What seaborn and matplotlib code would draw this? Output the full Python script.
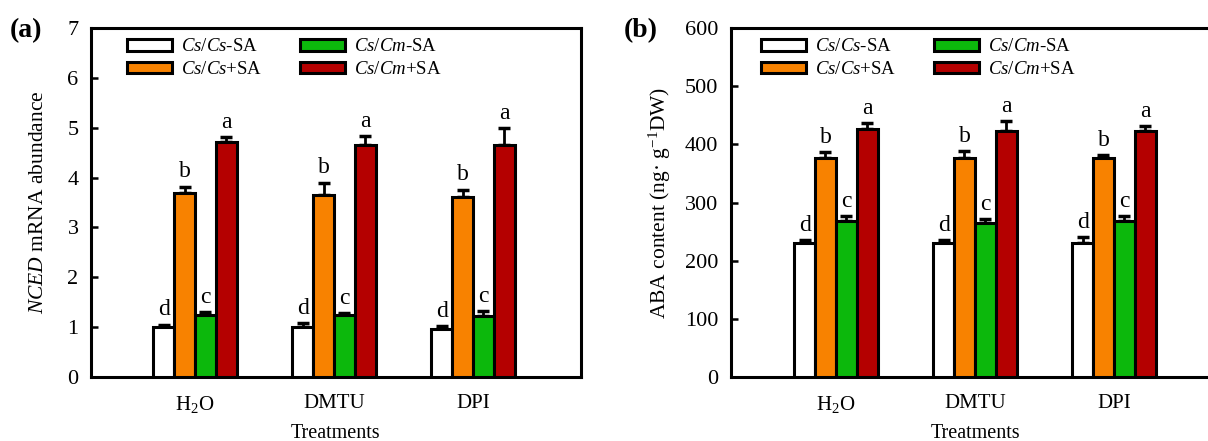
import numpy as np
import pandas as pd
import seaborn as sns
from matplotlib import pyplot as plt

# treatments on x axis and the four graft / SA combinations
treatments = ["H$_2$O", "DMTU", "DPI"]
groups = ["$\\it{Cs/Cs}$-SA", "$\\it{Cs/Cs}$+SA", "$\\it{Cs/Cm}$-SA", "$\\it{Cs/Cm}$+SA"]
colors = ["#FFFFFF", "#F88200", "#0CB80C", "#B40000"]
letters = ["d", "b", "c", "a"]

# (a) NCED mRNA abundance
nced_cs_minus = [1.00, 1.00, 0.97]
nced_cs_plus = [3.69, 3.65, 3.61]
nced_cm_minus = [1.24, 1.24, 1.22]
nced_cm_plus = [4.71, 4.65, 4.65]
nced_err_cs_minus = [0.05, 0.08, 0.05]
nced_err_cs_plus = [0.13, 0.25, 0.15]
nced_err_cm_minus = [0.06, 0.04, 0.10]
nced_err_cm_plus = [0.10, 0.18, 0.35]

# (b) ABA content
aba_cs_minus = [230, 230, 231]
aba_cs_plus = [377, 377, 377]
aba_cm_minus = [269, 265, 269]
aba_cm_plus = [426, 423, 423]
aba_err_cs_minus = [5, 5, 9]
aba_err_cs_plus = [10, 12, 5]
aba_err_cm_minus = [7, 7, 7]
aba_err_cm_plus = [10, 17, 9]

sns.set_style("ticks", {"axes.edgecolor": "black", "text.color": "black",
                        "xtick.color": "black", "ytick.color": "black",
                        "axes.labelcolor": "black"})
plt.rcParams['font.family'] = ['Liberation Serif', 'DejaVu Serif']
plt.rcParams['mathtext.fontset'] = 'custom'
plt.rcParams['mathtext.rm'] = 'Liberation Serif'
plt.rcParams['mathtext.it'] = 'Liberation Serif:italic'
plt.rcParams['mathtext.bf'] = 'Liberation Serif:bold'


def make_df(series):
    rows = []
    for g, vals in zip(groups, series):
        for t, v in zip(treatments, vals):
            rows.append({"treatment": t, "group": g, "value": v})
    return pd.DataFrame(rows)


def draw_panel(ax, series, errs, ylim, yticks, ylabel, ypad, xlim, leg_anchor, colsp):
    df = make_df(series)
    sns.barplot(data=df, x="treatment", y="value", hue="group", order=treatments,
                hue_order=groups, palette=dict(zip(groups, colors)), width=0.6,
                edgecolor="black", linewidth=2.2, errorbar=None, saturation=1, ax=ax, zorder=3)
    for cont, err, let in zip(ax.containers, errs, letters):
        xs = [p.get_x() + p.get_width() / 2 for p in cont.patches]
        hs = [p.get_height() for p in cont.patches]
        ax.errorbar(xs, hs, yerr=[np.zeros(len(err)), err], fmt="none", ecolor="black",
                    elinewidth=2, capsize=4.5, capthick=2.5, zorder=2)
        for x, h, e in zip(xs, hs, err):
            ax.annotate(let, (x, h + e), xytext=(0, 3), textcoords="offset points",
                        ha="center", va="bottom", fontsize=17)
    ax.set_xlim(*xlim)
    ax.set_ylim(*ylim)
    ax.set_yticks(yticks)
    ax.set_ylabel(ylabel, fontsize=15.5, labelpad=ypad)
    ax.set_xlabel("Treatments", fontsize=14.5, labelpad=6.5)
    ax.tick_params(axis="y", direction="in", length=5, width=1.8, labelsize=16, pad=9)
    ax.tick_params(axis="x", length=0, labelsize=15, pad=12)
    for s in ax.spines.values():
        s.set_linewidth(2.2)
        s.set_visible(True)
    h, l = ax.get_legend_handles_labels()
    ax.legend(h, l, ncol=2, loc="upper left", bbox_to_anchor=leg_anchor, frameon=False,
              fontsize=13.5, handlelength=2.4, handleheight=0.6, handletextpad=0.5,
              columnspacing=colsp, labelspacing=0.3, borderpad=0, borderaxespad=0)


fig = plt.figure(figsize=(12.08, 4.41), dpi=100)
ax1 = fig.add_axes([0.0753, 0.1451, 0.4056, 0.7914])
ax2 = fig.add_axes([0.6051, 0.1451, 0.4056, 0.7914])

draw_panel(ax1, [nced_cs_minus, nced_cs_plus, nced_cm_minus, nced_cm_plus],
           [nced_err_cs_minus, nced_err_cs_plus, nced_err_cm_minus, nced_err_cm_plus],
           (0, 7), range(0, 8), "$\\it{NCED}$ mRNA abundance", 14, (-0.748, 2.777),
           (0.073, 0.97), 2.0)
draw_panel(ax2, [aba_cs_minus, aba_cs_plus, aba_cm_minus, aba_cm_plus],
           [aba_err_cs_minus, aba_err_cs_plus, aba_err_cm_minus, aba_err_cm_plus],
           (0, 600), range(0, 700, 100), "ABA content (ng· g$^{-1}$DW)", 9, (-0.755, 2.77),
           (0.061, 0.97), 2.0)

fig.text(0.008, 0.93, "(a)", fontsize=20, fontweight="bold", va="center")
fig.text(0.516, 0.93, "(b)", fontsize=20, fontweight="bold", va="center")

fig.savefig("out.png", dpi=100)
